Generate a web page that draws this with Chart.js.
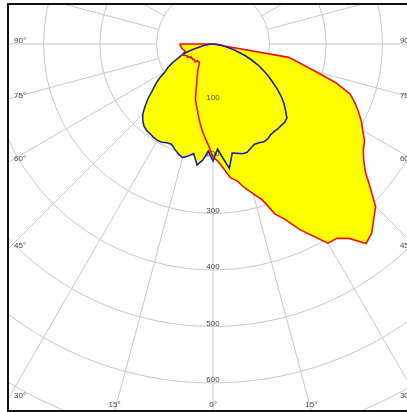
<!DOCTYPE html>
<html lang="en">
<head>
    <meta charset="UTF-8">
    <title>Polar intensity diagram</title>
    <script src="https://cdn.jsdelivr.net/npm/chart.js"></script>
    <style>
        body {
            margin: 0;
            background: #fff;
            overflow: hidden;
        }
        canvas {
            display: block;
        }
    </style>
</head>
<body>
    <canvas id="polar" width="407" height="412"></canvas>

    <script>
        // gamma step of the measurement (degrees), values in cd
        const STEP = 2.5;
        const gammaLabels = Array.from({ length: 144 }, (_, i) => i * STEP);

        // values for gamma = 0, 2.5, ... 90 on each side of the nadir
        const redLeft = [200, 180, 166, 152, 138, 124, 113, 103, 88, 75, 67, 59, 54, 47, 42, 40, 41, 40, 45, 44,
                         43, 45, 44, 46, 45, 51, 50, 53, 56, 55, 51, 52, 54, 56, 56, 58, 58];
        const redRight = [200, 208, 222, 239, 246, 261, 274, 289, 320, 337, 362, 383, 407, 408, 420, 445, 437, 421, 407, 378,
                          352, 336, 325, 318, 306, 296, 284, 272, 258, 228, 188, 158, 136, 0, 0, 0, 0];
        const blueLeft = [207, 190, 206, 216, 197, 203, 208, 204, 198, 192, 193, 196, 197, 196, 194, 193, 190, 184, 176, 163,
                          150, 135, 124, 112, 98, 90, 80, 68, 60, 50, 36, 24, 18, 12, 6, 3, 0];
        const blueRight = [207, 186, 203, 222, 196, 198, 201, 201, 196, 192, 193, 195, 194, 190, 189, 189, 188, 188, 185, 174,
                           164, 152, 139, 125, 113, 100, 88, 74, 61, 46, 36, 26, 18, 12, 6, 3, 0];

        const ringTicks = [100, 200, 300, 400, 500, 600];
        const angleTicks = [0, 15, 30, 45, 60, 75, 90];

        // layout of the picture
        const CX = 213, CY = 44;          // pole of the diagram
        const R_MAX = 452;                // radius of 800 cd
        const FRAME = { left: 8, top: 4, right: 418, bottom: 411 };

        // index 0 points down, indices go round clockwise (left side first)
        function planeData(left, right) {
            return gammaLabels.map((g, i) => {
                if (i <= 36) return left[i];
                if (i >= 108) return right[144 - i];
                return 0;
            });
        }

        const labelFont = '8px "Liberation Sans", Arial, sans-serif';

        const framePlugin = {
            id: 'frame',
            beforeDraw(chart) {
                const ctx = chart.ctx;
                ctx.save();
                ctx.fillStyle = '#fff';
                ctx.fillRect(0, 0, chart.width, chart.height);
                ctx.beginPath();
                ctx.rect(FRAME.left, FRAME.top, FRAME.right - FRAME.left, FRAME.bottom - FRAME.top);
                ctx.clip();
            },
            beforeDatasetsDraw(chart) {
                // ring values along the nadir line, over the fill
                const ctx = chart.ctx;
                const r = chart.scales.r;
                ctx.save();
                ctx.font = labelFont;
                ctx.fillStyle = '#444';
                ctx.textAlign = 'center';
                ctx.textBaseline = 'alphabetic';
                ringTicks.forEach(v => {
                    const p = r.getPointPosition(0, r.getDistanceFromCenterForValue(v));
                    ctx.fillText(String(v), p.x, p.y - 1);
                });
                ctx.restore();
            },
            afterDraw(chart) {
                const ctx = chart.ctx;
                const r = chart.scales.r;
                ctx.restore();

                // angle labels where the radial lines meet the frame
                ctx.save();
                ctx.font = labelFont;
                ctx.fillStyle = '#444';
                angleTicks.forEach(a => {
                    [1, -1].forEach(side => {
                        if (a === 0 && side === -1) return;
                        const idx = side === 1 ? a / STEP : 144 - a / STEP;
                        const p = r.getPointPosition(idx % 144, 100);
                        const dx = (p.x - r.xCenter) / 100, dy = (p.y - r.yCenter) / 100;
                        const tSide = Math.abs(dx) > 1e-6 ? (dx < 0 ? (FRAME.left - r.xCenter) / dx : (FRAME.right - r.xCenter) / dx) : Infinity;
                        const tBottom = dy > 1e-6 ? (FRAME.bottom - r.yCenter) / dy : Infinity;
                        const text = a + '°';
                        if (tSide < tBottom) {
                            const y = r.yCenter + dy * tSide;
                            ctx.textAlign = dx < 0 ? 'left' : 'right';
                            ctx.fillText(text, dx < 0 ? FRAME.left + 6 : FRAME.right - 6, y - 1);
                        } else {
                            const x = r.xCenter + dx * tBottom;
                            ctx.textAlign = 'center';
                            ctx.fillText(text, x, FRAME.bottom - 4);
                        }
                    });
                });
                ctx.restore();

                // frame (the right side lies outside the picture)
                ctx.save();
                ctx.strokeStyle = '#111';
                ctx.lineWidth = 2;
                ctx.beginPath();
                ctx.moveTo(chart.width + 2, FRAME.top);
                ctx.lineTo(FRAME.left, FRAME.top);
                ctx.lineTo(FRAME.left, FRAME.bottom);
                ctx.lineTo(chart.width + 2, FRAME.bottom);
                ctx.stroke();
                ctx.restore();
            }
        };

        const ctx = document.getElementById('polar').getContext('2d');
        const polarChart = new Chart(ctx, {
            type: 'radar',
            data: {
                labels: gammaLabels,
                datasets: [{
                    label: 'C90-C270',
                    data: planeData(blueLeft, blueRight),
                    borderColor: '#1c22a6',
                    backgroundColor: '#ffff00',
                    borderWidth: 1.6,
                    fill: true,
                    pointRadius: 0,
                    tension: 0
                }, {
                    label: 'C0-C180',
                    data: planeData(redLeft, redRight),
                    borderColor: '#ee1111',
                    backgroundColor: '#ffff00',
                    borderWidth: 1.6,
                    fill: true,
                    pointRadius: 0,
                    tension: 0
                }]
            },
            options: {
                responsive: false,
                animation: false,
                layout: { padding: 0 },
                plugins: {
                    legend: { display: false },
                    tooltip: { enabled: false },
                    filler: { drawTime: 'beforeDatasetsDraw' }
                },
                scales: {
                    r: {
                        startAngle: 180,
                        min: 0,
                        max: 800,
                        ticks: { display: false, stepSize: 100 },
                        pointLabels: { display: false },
                        grid: { circular: true, color: '#c8c8c8', lineWidth: 1 },
                        angleLines: {
                            color: '#c8c8c8',
                            lineWidth: c => (c.index % 6 === 0 ? 1 : 0),
                            // radial lines start at the 100 cd ring
                            borderDash: c => [0, c.chart.scales.r.getDistanceFromCenterForValue(100), 4000, 0]
                        },
                        afterFit: scale => {
                            scale.xCenter = CX;
                            scale.yCenter = CY;
                            scale.drawingArea = R_MAX;
                        }
                    }
                }
            },
            plugins: [framePlugin]
        });
    </script>
</body>
</html>
